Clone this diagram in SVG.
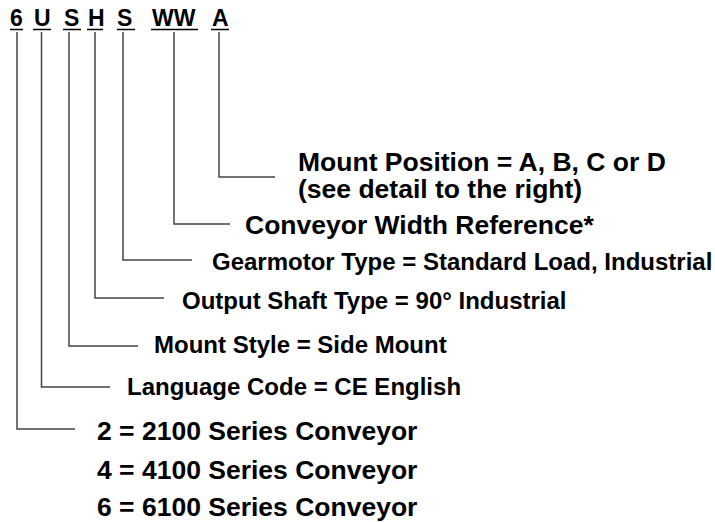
<svg xmlns="http://www.w3.org/2000/svg" width="715" height="522" viewBox="0 0 715 522">
<style>
text{font-family:"Liberation Sans",Arial,sans-serif;font-weight:bold;fill:#000}
.code{font-size:23px}
.big{font-size:26.5px}
.small{font-size:24px}
.ul{stroke:#000;stroke-width:1.5;fill:none}
.c{stroke:#444;stroke-width:1.5;fill:none}
</style>
<rect width="715" height="522" fill="#fff"/>
<g id="code">
<text class="code" x="10" y="26">6</text>
<text class="code" x="34" y="26">U</text>
<text class="code" x="64" y="26">S</text>
<text class="code" x="88" y="26">H</text>
<text class="code" x="117" y="26">S</text>
<text class="code" x="152" y="26">WW</text>
<text class="code" x="212" y="26">A</text>
<path class="ul" d="M10 29.5H23M33 29.5H51M63 29.5H81M87 29.5H103M117 29.5H135M151 29.5H198M211 29.5H229"/>
</g>
<g id="connectors">
<path class="c" d="M17 32V429H75"/>
<path class="c" d="M41.5 32V387H110"/>
<path class="c" d="M69 32V346H138"/>
<path class="c" d="M95 32V298H164"/>
<path class="c" d="M123 32V260H192"/>
<path class="c" d="M174 32V224H230"/>
<path class="c" d="M219 32V177H275"/>
</g>
<g id="mount-position"><text class="big" x="298" y="171">Mount Position = A, B, C or D</text><text class="big" x="298" y="198">(see detail to the right)</text></g>
<g id="width"><text class="big" x="245" y="234">Conveyor Width Reference*</text></g>
<g id="gearmotor"><text class="small" x="212" y="270">Gearmotor Type = Standard Load, Industrial</text></g>
<g id="shaft"><text class="small" x="182" y="309">Output Shaft Type = 90° Industrial</text></g>
<g id="style"><text class="small" x="154" y="353">Mount Style = Side Mount</text></g>
<g id="language"><text class="small" x="127" y="395">Language Code = CE English</text></g>
<g id="series">
<text class="big" x="97" y="440">2 = 2100 Series Conveyor</text>
<text class="big" x="97" y="479">4 = 4100 Series Conveyor</text>
<text class="big" x="97" y="516">6 = 6100 Series Conveyor</text>
</g>
</svg>
